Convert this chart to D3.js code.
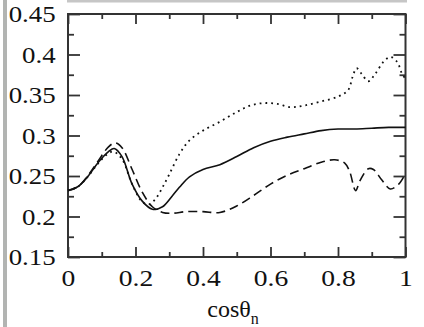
<!DOCTYPE html>
<html>
<head>
<meta charset="utf-8">
<script src="https://cdnjs.cloudflare.com/ajax/libs/d3/7.8.5/d3.min.js"></script>
<style>
  body { margin: 0; background: #fff; }
  svg { display: block; }
  .tick text { font-family: "Liberation Serif", serif; font-size: 24px; fill: #111; }
</style>
</head>
<body>
<svg id="chart" width="424" height="327"></svg>
<script>
// values (x = cos theta_n)
var solidX  = [0, 0.03, 0.06, 0.09, 0.12, 0.137, 0.16, 0.19, 0.22, 0.25, 0.28, 0.31, 0.33, 0.36, 0.4, 0.45, 0.5, 0.55, 0.6, 0.65, 0.7, 0.75, 0.8, 0.85, 0.9, 0.95, 1.0];
var solidY  = [0.232, 0.237, 0.250, 0.267, 0.280, 0.284, 0.274, 0.240, 0.219, 0.209, 0.212, 0.226, 0.236, 0.249, 0.258, 0.264, 0.274, 0.285, 0.293, 0.298, 0.302, 0.306, 0.308, 0.308, 0.309, 0.310, 0.310];

var dottedX = [0, 0.03, 0.06, 0.09, 0.12, 0.135, 0.16, 0.19, 0.22, 0.24, 0.26, 0.28, 0.3, 0.33, 0.36, 0.4, 0.45, 0.5, 0.54, 0.58, 0.62, 0.66, 0.7, 0.75, 0.8, 0.83, 0.843, 0.855, 0.87, 0.89, 0.91, 0.935, 0.955, 0.975, 0.99, 1.0];
var dottedY = [0.232, 0.237, 0.250, 0.266, 0.278, 0.280, 0.271, 0.240, 0.218, 0.215, 0.222, 0.236, 0.252, 0.277, 0.294, 0.306, 0.317, 0.329, 0.337, 0.340, 0.339, 0.335, 0.337, 0.342, 0.348, 0.356, 0.372, 0.383, 0.376, 0.367, 0.376, 0.391, 0.397, 0.391, 0.376, 0.370];

var dashedX = [0, 0.03, 0.06, 0.09, 0.12, 0.14, 0.16, 0.19, 0.22, 0.25, 0.28, 0.31, 0.35, 0.4, 0.45, 0.5, 0.55, 0.6, 0.65, 0.7, 0.75, 0.79, 0.82, 0.835, 0.852, 0.866, 0.89, 0.905, 0.93, 0.955, 0.98, 1.0];
var dashedY = [0.232, 0.237, 0.251, 0.269, 0.286, 0.291, 0.285, 0.258, 0.230, 0.212, 0.205, 0.204, 0.206, 0.206, 0.205, 0.213, 0.226, 0.240, 0.251, 0.259, 0.267, 0.270, 0.266, 0.255, 0.232, 0.245, 0.259, 0.258, 0.245, 0.234, 0.240, 0.253];

var xTicks = [0, 0.2, 0.4, 0.6, 0.8, 1];
var xMinor = [0.1, 0.3, 0.5, 0.7, 0.9];
var yTicks = [0.15, 0.2, 0.25, 0.3, 0.35, 0.4, 0.45];
var yMinor = [0.175, 0.225, 0.275, 0.325, 0.375, 0.425];

var svg = d3.select("#chart");
var plotL = 68, plotR = 405.5, plotT = 14, plotB = 257;

// grey bits around the old scan
svg.append("rect").attr("x", 3).attr("y", 0).attr("width", 4).attr("height", 327).attr("fill", "#b2b4b2");
svg.append("rect").attr("x", 67).attr("y", 0).attr("width", 340).attr("height", 2.5).attr("fill", "#c6c6c6");

var x = d3.scaleLinear().domain([0, 1]).range([plotL, plotR]);
var y = d3.scaleLinear().domain([0.15, 0.45]).range([plotB, plotT]);

var fmt = d => d3.format("~g")(d);

function axis(gen, vals, size, tr, labels) {
  var g = svg.append("g").attr("transform", tr)
    .call(gen.tickValues(vals).tickSize(size).tickPadding(labels ? 12 : 0)
      .tickFormat(labels ? fmt : ""));
  g.select(".domain").remove();
  g.selectAll(".tick line").attr("stroke", "#333").attr("stroke-width", 1.8);
  return g;
}

var bx = axis(d3.axisBottom(x), xTicks, -10, "translate(0," + plotB + ")", true);
axis(d3.axisBottom(x), xMinor, -5, "translate(0," + plotB + ")", false);
axis(d3.axisTop(x), xTicks, -10, "translate(0," + plotT + ")", false);
axis(d3.axisTop(x), xMinor, -5, "translate(0," + plotT + ")", false);
var ly = axis(d3.axisLeft(y), yTicks, -12, "translate(" + plotL + ",0)", true);
axis(d3.axisLeft(y), yMinor, -6, "translate(" + plotL + ",0)", false);
axis(d3.axisRight(y), yTicks, -12, "translate(" + plotR + ",0)", false);
axis(d3.axisRight(y), yMinor, -6, "translate(" + plotR + ",0)", false);

// labels in the scan look a little wide
bx.selectAll(".tick text").attr("transform", "scale(1.15,1)");
ly.selectAll(".tick text").attr("transform", "scale(1.12,1)").attr("x", -11);

svg.append("rect")
  .attr("x", plotL).attr("y", plotT)
  .attr("width", plotR - plotL).attr("height", plotB - plotT)
  .attr("fill", "none").attr("stroke", "#333").attr("stroke-width", 2);

var line = d3.line().x(d => x(d[0])).y(d => y(d[1])).curve(d3.curveCatmullRom.alpha(0.5));

function draw(xs, ys, dash, w) {
  svg.append("path")
    .datum(xs.map((v, i) => [v, ys[i]]))
    .attr("d", line)
    .attr("fill", "none")
    .attr("stroke", "#111")
    .attr("stroke-width", w)
    .attr("stroke-dasharray", dash);
}

draw(dottedX, dottedY, "1.8,4", 1.8);
draw(dashedX, dashedY, "9,5", 1.6);
draw(solidX, solidY, null, 1.6);

var title = svg.append("text")
  .attr("x", 233).attr("y", 317)
  .attr("text-anchor", "middle")
  .attr("font-family", "Liberation Serif, serif")
  .attr("font-size", 24)
  .attr("fill", "#111");
title.append("tspan").text("cosθ");
title.append("tspan").attr("font-size", 16).attr("dy", 7).text("n");
</script>
</body>
</html>
